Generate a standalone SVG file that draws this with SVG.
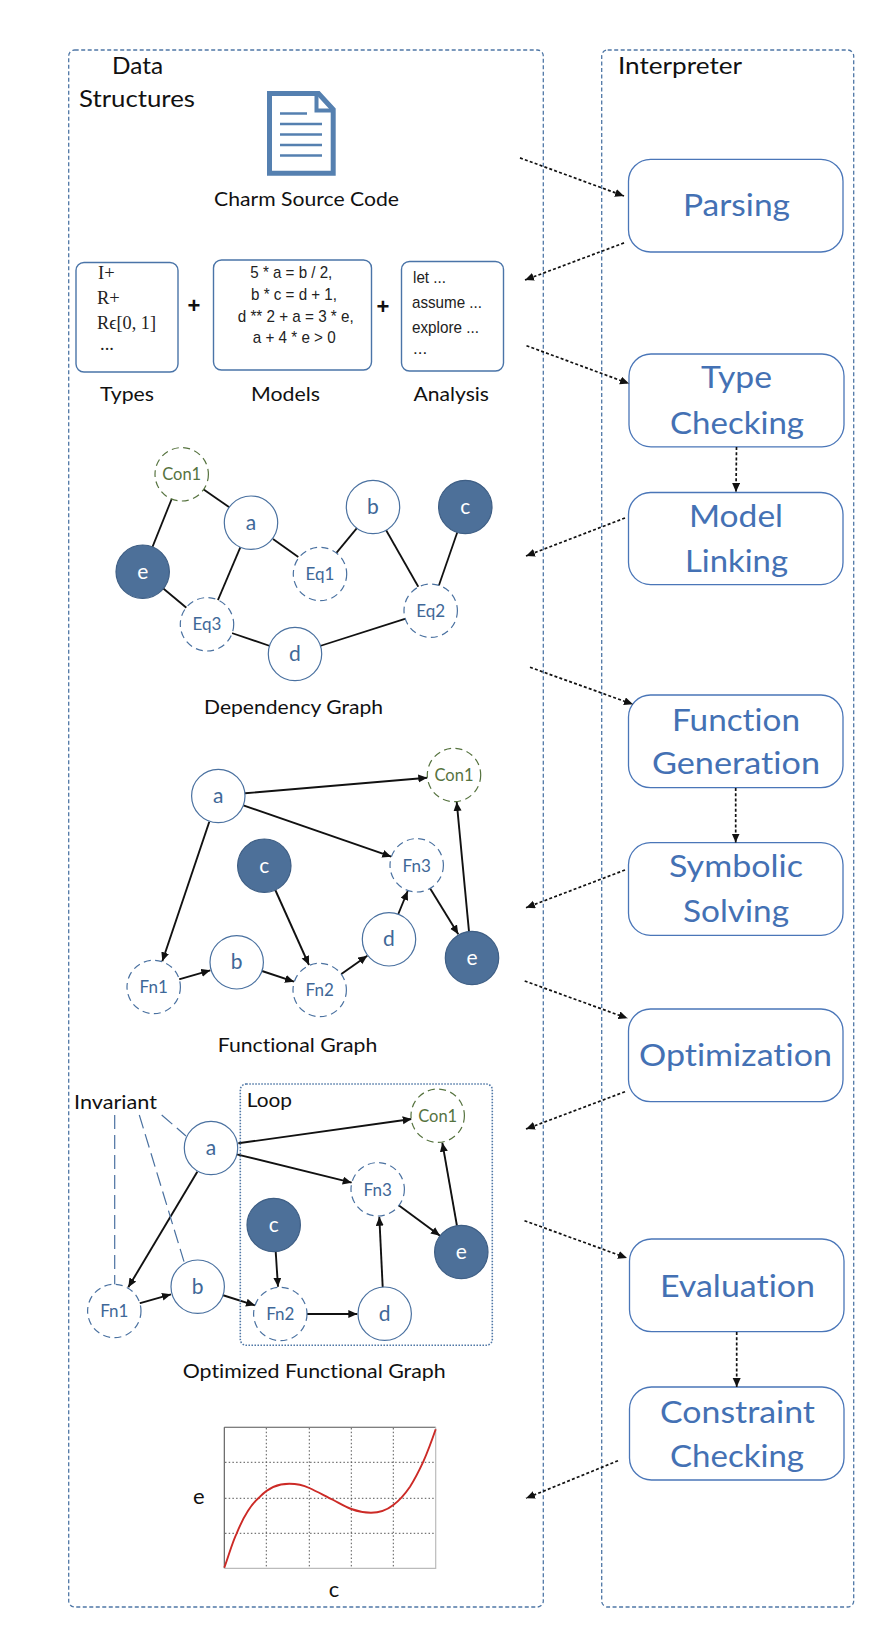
<svg xmlns="http://www.w3.org/2000/svg" width="890" height="1642" viewBox="0 0 890 1642">
<style>
text{font-family:"Lato","Liberation Sans",sans-serif;fill:#111;font-variant-ligatures:none}
.panel{fill:none;stroke:#4f77a6;stroke-width:1.3;stroke-dasharray:4 2.5}
.proc rect{fill:#fff;stroke:#4a76b8;stroke-width:1.3}
.proc text{font-size:30px;fill:#4471b4}
.box{fill:#fff;stroke:#4a74a8;stroke-width:1.4}
.lab{font-size:20px}
.big{font-size:23px}
.sans{font-family:"Liberation Sans",sans-serif;font-size:17px;fill:#222}
.serif{font-family:"Liberation Serif",serif;font-size:18.5px;fill:#222}
.plus{font-family:"Liberation Sans",sans-serif;font-size:22px;font-weight:bold;fill:#111;text-anchor:middle}
.n circle{fill:#fff;stroke:#4a71a0;stroke-width:1.2}
.n text{font-size:21px;fill:#3f6898;text-anchor:middle}
.f circle{fill:#fff;stroke:#4a71a0;stroke-width:1.2;stroke-dasharray:7 4.5}
.f text{font-size:17px;fill:#3f6898;text-anchor:middle}
.k circle{fill:#fff;stroke:#56733f;stroke-width:1.2;stroke-dasharray:7 4.5}
.k text{font-size:16.5px;fill:#56733f;text-anchor:middle}
.s circle{fill:#4d7099;stroke:#3f5f85;stroke-width:1.2}
.s text{font-size:21px;fill:#fff;text-anchor:middle}
.dot line{stroke:#111;stroke-width:1.7;stroke-dasharray:3 2.2;marker-end:url(#ah)}
.edge line{stroke:#111;stroke-width:1.8}
.arr line{stroke:#111;stroke-width:1.9;marker-end:url(#ah)}
.inv line{stroke:#4a71a0;stroke-width:1.2;stroke-dasharray:14 6}
.grid line{stroke:#555;stroke-width:1;stroke-dasharray:1.5 2.2}
</style>
<defs>
<marker id="ah" markerUnits="userSpaceOnUse" markerWidth="10" markerHeight="9" refX="9" refY="4" orient="auto"><path d="M0,0 L9,4 L0,8 Z" fill="#111"/></marker>
</defs>
<rect width="890" height="1642" fill="#fff"/>

<g id="panels">
<rect id="data-panel" class="panel" x="68.7" y="50" width="474.6" height="1557" rx="6"/>
<rect id="interpreter-panel" class="panel" x="601.7" y="50" width="252" height="1557" rx="6"/>
<text class="big" x="112" y="73.5" textLength="51" lengthAdjust="spacingAndGlyphs">Data</text>
<text class="big" x="79" y="107" textLength="116" lengthAdjust="spacingAndGlyphs">Structures</text>
<text class="big" x="618" y="73.6" textLength="124" lengthAdjust="spacingAndGlyphs">Interpreter</text>
</g>

<g id="source-doc">
<path d="M269.5,93.5 H318.5 L333.2,109.5 V173.2 H269.5 Z" fill="#fff" stroke="#5580b0" stroke-width="5"/>
<path d="M316.5,94 V110.5 H333" fill="none" stroke="#5580b0" stroke-width="4"/>
<g stroke="#5580b0" stroke-width="2.5"><line x1="280" y1="113.5" x2="307" y2="113.5"/><line x1="280" y1="124" x2="322" y2="124"/><line x1="280" y1="134.5" x2="322" y2="134.5"/><line x1="280" y1="145" x2="322" y2="145"/><line x1="280" y1="155.5" x2="322" y2="155.5"/></g>
<text class="lab" x="214" y="205.7" textLength="185" lengthAdjust="spacingAndGlyphs">Charm Source Code</text>
</g>

<g id="types">
<rect class="box" x="76" y="262.5" width="102" height="109.5" rx="8"/>
<text class="serif" x="98" y="279">I+</text>
<text class="serif" x="97" y="304">R+</text>
<text class="serif" x="97" y="328.7" textLength="59" lengthAdjust="spacingAndGlyphs">Rϵ[0, 1]</text>
<text class="serif" x="100" y="350">...</text>
<text class="lab" x="100" y="400.7" textLength="54" lengthAdjust="spacingAndGlyphs">Types</text>
</g>
<text class="plus" x="194" y="313">+</text>
<g id="models">
<rect class="box" x="213.5" y="260" width="158" height="110" rx="8"/>
<text class="sans" x="250.3" y="278" textLength="82" lengthAdjust="spacingAndGlyphs">5 * a = b / 2,</text>
<text class="sans" x="251" y="300" textLength="86" lengthAdjust="spacingAndGlyphs">b * c = d + 1,</text>
<text class="sans" x="237.7" y="322" textLength="116" lengthAdjust="spacingAndGlyphs">d ** 2 + a = 3 * e,</text>
<text class="sans" x="252.7" y="343" textLength="83" lengthAdjust="spacingAndGlyphs">a + 4 * e &gt; 0</text>
<text class="lab" x="251" y="400.7" textLength="69" lengthAdjust="spacingAndGlyphs">Models</text>
</g>
<text class="plus" x="383" y="314">+</text>
<g id="analysis">
<rect class="box" x="401.5" y="261.5" width="102" height="109.5" rx="8"/>
<text class="sans" x="413" y="283" textLength="33" lengthAdjust="spacingAndGlyphs">let ...</text>
<text class="sans" x="412" y="308" textLength="70" lengthAdjust="spacingAndGlyphs">assume ...</text>
<text class="sans" x="412" y="333" textLength="67" lengthAdjust="spacingAndGlyphs">explore ...</text>
<text class="sans" x="413" y="354">...</text>
<text class="lab" x="413.5" y="400.7" textLength="75.5" lengthAdjust="spacingAndGlyphs">Analysis</text>
</g>

<g id="parsing" class="proc"><rect x="628.5" y="159.3" width="214.5" height="92.7" rx="22"/>
<text x="683" y="216.4" textLength="107" lengthAdjust="spacingAndGlyphs">Parsing</text></g>
<g id="type-checking" class="proc"><rect x="629" y="354" width="215" height="92.8" rx="22"/>
<text x="701" y="388.2" textLength="71" lengthAdjust="spacingAndGlyphs">Type</text>
<text x="670" y="433.6" textLength="134" lengthAdjust="spacingAndGlyphs">Checking</text></g>
<g id="model-linking" class="proc"><rect x="628.5" y="492.5" width="214.5" height="92.1" rx="22"/>
<text x="689" y="527" textLength="94" lengthAdjust="spacingAndGlyphs">Model</text>
<text x="685" y="571.8" textLength="103" lengthAdjust="spacingAndGlyphs">Linking</text></g>
<g id="function-generation" class="proc"><rect x="628.5" y="695" width="214.5" height="92.7" rx="22"/>
<text x="672" y="730.7" textLength="128" lengthAdjust="spacingAndGlyphs">Function</text>
<text x="652" y="774.3" textLength="168" lengthAdjust="spacingAndGlyphs">Generation</text></g>
<g id="symbolic-solving" class="proc"><rect x="628.5" y="842.7" width="214.5" height="92.6" rx="22"/>
<text x="669" y="877.3" textLength="134" lengthAdjust="spacingAndGlyphs">Symbolic</text>
<text x="683" y="921.7" textLength="106" lengthAdjust="spacingAndGlyphs">Solving</text></g>
<g id="optimization" class="proc"><rect x="628.5" y="1009" width="214.5" height="92.7" rx="22"/>
<text x="639" y="1066" textLength="193" lengthAdjust="spacingAndGlyphs">Optimization</text></g>
<g id="evaluation" class="proc"><rect x="629.5" y="1239" width="214.5" height="92.7" rx="22"/>
<text x="660" y="1296.7" textLength="155" lengthAdjust="spacingAndGlyphs">Evaluation</text></g>
<g id="constraint-checking" class="proc"><rect x="629.5" y="1387" width="214.5" height="93" rx="22"/>
<text x="660" y="1422.7" textLength="155" lengthAdjust="spacingAndGlyphs">Constraint</text>
<text x="670" y="1466.7" textLength="134" lengthAdjust="spacingAndGlyphs">Checking</text></g>

<g id="connectors">
<g class="dot">
<line x1="520" y1="157.9" x2="624" y2="196"/>
<line x1="624" y1="242.9" x2="525" y2="280"/>
<line x1="526.5" y1="345.7" x2="629" y2="383.6"/>
<line x1="736.5" y1="447" x2="736" y2="492"/>
<line x1="625" y1="518" x2="526" y2="556"/>
<line x1="530" y1="667.3" x2="633" y2="704.3"/>
<line x1="735.7" y1="788" x2="735.7" y2="842.5"/>
<line x1="625" y1="870" x2="526" y2="907.7"/>
<line x1="524.7" y1="981" x2="627.5" y2="1018.3"/>
<line x1="625" y1="1091.7" x2="526" y2="1129"/>
<line x1="524.5" y1="1220.7" x2="627" y2="1258"/>
<line x1="736.7" y1="1332" x2="736.7" y2="1387"/>
<line x1="618" y1="1460.7" x2="526" y2="1498.3"/>
</g>
<g class="edge">
<line x1="171.7" y1="499" x2="152.3" y2="547.3"/>
<line x1="203.3" y1="489.3" x2="230" y2="507.7"/>
<line x1="273" y1="539" x2="298.3" y2="557"/>
<line x1="240.3" y1="547.3" x2="217.7" y2="600.7"/>
<line x1="357.3" y1="527.7" x2="336" y2="553.3"/>
<line x1="386" y1="530" x2="418.3" y2="586.7"/>
<line x1="457.3" y1="532.3" x2="438.7" y2="586"/>
<line x1="162.7" y1="588" x2="187" y2="608.3"/>
<line x1="231.7" y1="633" x2="270" y2="646"/>
<line x1="320" y1="646" x2="405.7" y2="618.7"/>
</g>
<g class="arr">
<line x1="245" y1="793.3" x2="427.3" y2="777.7"/>
<line x1="243.3" y1="805.3" x2="391.3" y2="856.7"/>
<line x1="209.3" y1="821.7" x2="162.3" y2="961.3"/>
<line x1="275.3" y1="890" x2="309" y2="965"/>
<line x1="179" y1="979.3" x2="210.3" y2="970.3"/>
<line x1="262" y1="971" x2="294" y2="981.7"/>
<line x1="341" y1="974.3" x2="367.3" y2="955.7"/>
<line x1="398.3" y1="914" x2="407.7" y2="891"/>
<line x1="430" y1="888.3" x2="458.3" y2="934.3"/>
<line x1="469" y1="931.7" x2="456.7" y2="802"/>
<line x1="238.3" y1="1143.3" x2="411.7" y2="1119"/>
<line x1="236.7" y1="1154.3" x2="351.7" y2="1182.7"/>
<line x1="197.3" y1="1171.7" x2="128.3" y2="1287.3"/>
<line x1="275.7" y1="1251.7" x2="278" y2="1286.7"/>
<line x1="139.3" y1="1303.3" x2="171" y2="1294.3"/>
<line x1="222.3" y1="1295" x2="255" y2="1305.3"/>
<line x1="306" y1="1314" x2="357.3" y2="1314"/>
<line x1="382.7" y1="1287.3" x2="379.3" y2="1216.7"/>
<line x1="398.3" y1="1205" x2="440" y2="1235.7"/>
<line x1="457" y1="1226" x2="442.3" y2="1142.7"/>
</g>
<g class="inv">
<line x1="114.7" y1="1115" x2="114.7" y2="1285"/>
<line x1="139.3" y1="1115" x2="184" y2="1261.7"/>
<line x1="161.7" y1="1115" x2="186" y2="1136"/>
</g>
</g>

<g id="dependency-graph">
<g id="dep-con1" class="k"><circle cx="181.7" cy="474.3" r="26.7"/><text x="181.7" y="480">Con1</text></g>
<g id="dep-a" class="n"><circle cx="251" cy="522.7" r="26.7"/><text x="251" y="530">a</text></g>
<g id="dep-b" class="n"><circle cx="373" cy="507" r="26.7"/><text x="373" y="513.5">b</text></g>
<g id="dep-c" class="s"><circle cx="465.3" cy="507" r="26.7"/><text x="465.3" y="513.5">c</text></g>
<g id="dep-e" class="s"><circle cx="142.7" cy="571.7" r="26.7"/><text x="142.7" y="579">e</text></g>
<g id="dep-eq1" class="f"><circle cx="320" cy="574" r="26.7"/><text x="320" y="580">Eq1</text></g>
<g id="dep-eq2" class="f"><circle cx="430.7" cy="610.7" r="26.7"/><text x="430.7" y="617">Eq2</text></g>
<g id="dep-eq3" class="f"><circle cx="207" cy="624.3" r="26.7"/><text x="207" y="630">Eq3</text></g>
<g id="dep-d" class="n"><circle cx="295" cy="654" r="26.7"/><text x="295" y="660.7">d</text></g>
<text class="lab" x="204" y="714" textLength="179" lengthAdjust="spacingAndGlyphs">Dependency Graph</text>
</g>

<g id="functional-graph">
<g id="fun-a" class="n"><circle cx="218.3" cy="796" r="26.7"/><text x="218.3" y="803">a</text></g>
<g id="fun-con1" class="k"><circle cx="454" cy="775" r="26.7"/><text x="454" y="781">Con1</text></g>
<g id="fun-c" class="s"><circle cx="264.3" cy="865.7" r="26.7"/><text x="264.3" y="873">c</text></g>
<g id="fun-fn3" class="f"><circle cx="416.7" cy="865.3" r="26.7"/><text x="416.7" y="871.5">Fn3</text></g>
<g id="fun-d" class="n"><circle cx="389" cy="939.3" r="26.7"/><text x="389" y="946">d</text></g>
<g id="fun-e" class="s"><circle cx="472" cy="958" r="26.7"/><text x="472" y="965">e</text></g>
<g id="fun-b" class="n"><circle cx="236.7" cy="962.3" r="26.7"/><text x="236.7" y="969">b</text></g>
<g id="fun-fn1" class="f"><circle cx="153.7" cy="987" r="26.7"/><text x="153.7" y="993">Fn1</text></g>
<g id="fun-fn2" class="f"><circle cx="319.7" cy="990" r="26.7"/><text x="319.7" y="996">Fn2</text></g>
<text class="lab" x="217.7" y="1051.7" textLength="159.6" lengthAdjust="spacingAndGlyphs">Functional Graph</text>
</g>

<g id="optimized-graph">
<g id="loop"><rect x="240.3" y="1084" width="252" height="261.3" rx="6" fill="none" stroke="#4f77a6" stroke-width="1.6" stroke-dasharray="1.5 1.5"/>
<text class="lab" x="246.7" y="1106.7" textLength="45.3" lengthAdjust="spacingAndGlyphs">Loop</text></g>
<text id="invariant" class="lab" x="74" y="1109" textLength="83" lengthAdjust="spacingAndGlyphs">Invariant</text>
<g id="opt-a" class="n"><circle cx="211" cy="1148" r="26.7"/><text x="211" y="1155">a</text></g>
<g id="opt-con1" class="k"><circle cx="437.7" cy="1115.7" r="26.7"/><text x="437.7" y="1121.5">Con1</text></g>
<g id="opt-fn3" class="f"><circle cx="377.7" cy="1189.3" r="26.7"/><text x="377.7" y="1195.5">Fn3</text></g>
<g id="opt-c" class="s"><circle cx="273.7" cy="1225" r="26.7"/><text x="273.7" y="1232">c</text></g>
<g id="opt-e" class="s"><circle cx="461.3" cy="1252" r="26.7"/><text x="461.3" y="1259">e</text></g>
<g id="opt-b" class="n"><circle cx="197.7" cy="1286.7" r="26.7"/><text x="197.7" y="1293.5">b</text></g>
<g id="opt-fn1" class="f"><circle cx="114.3" cy="1311" r="26.7"/><text x="114.3" y="1317">Fn1</text></g>
<g id="opt-fn2" class="f"><circle cx="280.3" cy="1314" r="26.7"/><text x="280.3" y="1320">Fn2</text></g>
<g id="opt-d" class="n"><circle cx="384.7" cy="1313.7" r="26.7"/><text x="384.7" y="1320.5">d</text></g>
<text class="lab" x="182.7" y="1378" textLength="263" lengthAdjust="spacingAndGlyphs">Optimized Functional Graph</text>
</g>

<g id="chart">
<g class="grid">
<line x1="266.3" y1="1428" x2="266.3" y2="1568"/><line x1="309.3" y1="1428" x2="309.3" y2="1568"/><line x1="351.3" y1="1428" x2="351.3" y2="1568"/><line x1="393.3" y1="1428" x2="393.3" y2="1568"/>
<line x1="225" y1="1462.3" x2="435" y2="1462.3"/><line x1="225" y1="1498.3" x2="435" y2="1498.3"/><line x1="225" y1="1533.3" x2="435" y2="1533.3"/>
</g>
<path d="M224.3,1427.3 H435.7" stroke="#555" stroke-width="1.1" fill="none"/>
<path d="M224.3,1427.3 V1568.3" stroke="#555" stroke-width="1.1" fill="none"/>
<path d="M224.3,1568.3 H435.7 V1427.3" stroke="#bbb" stroke-width="1.2" fill="none"/>
<path d="M224.3,1567.7 C229,1555 232,1543 236.7,1533.3 C243,1518 250,1505 260,1496.7 C268,1488 279,1483.7 289.3,1483.7 C296,1483.7 303,1485 309.3,1488 C318,1492 326,1496.5 333.3,1500 C340,1503.5 345,1506.7 351.3,1509 C358,1511.5 364,1512.7 371,1512.7 C379,1512.7 387,1510 393.3,1505 C400,1500 405,1494 410,1486.7 C415,1479 419,1471 423.3,1461.7 C428,1451 432,1440 435.7,1429.3" fill="none" stroke="#cc2a26" stroke-width="1.9"/>
<text class="lab" x="193" y="1504" style="font-size:22px">e</text>
<text class="lab" x="328.7" y="1597.3" style="font-size:22px">c</text>
</g>
</svg>
